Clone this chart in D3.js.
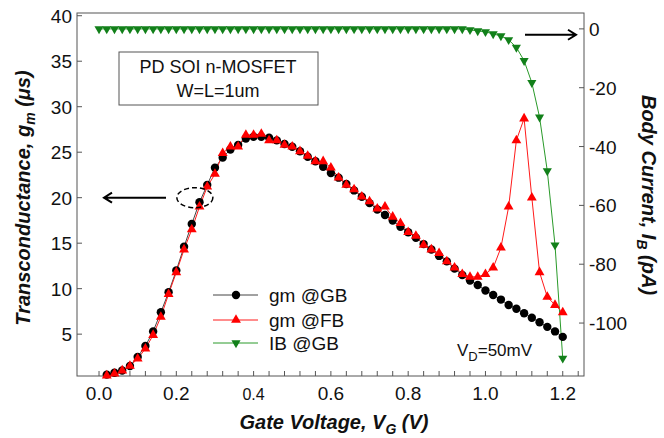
<!DOCTYPE html>
<meta charset="utf-8">
<style>
	body { margin: 0; background: #fff; }
	text { font-family: Arial, "Liberation Sans", sans-serif; fill: #111; }
	.frame { fill: none; stroke: #555; stroke-width: 1; }
	.tick line { stroke: #555; }
	.ticklabel { font-size: 19px; }
	.title { font-size: 20px; font-weight: bold; font-style: italic; }
	.note { font-size: 18px; }
	.legend text { font-size: 19px; }
</style>
<body>
<script src="https://cdn.jsdelivr.net/npm/d3@7"></script>
<script>
var width = 664,
    height = 438;

// gate voltage steps (V)
var vg = [0.00,0.02,0.04,0.06,0.08,0.10,0.12,0.14,0.16,0.18,
          0.20,0.22,0.24,0.26,0.28,0.30,0.32,0.34,0.36,0.38,
          0.40,0.42,0.44,0.46,0.48,0.50,0.52,0.54,0.56,0.58,
          0.60,0.62,0.64,0.66,0.68,0.70,0.72,0.74,0.76,0.78,
          0.80,0.82,0.84,0.86,0.88,0.90,0.92,0.94,0.96,0.98,
          1.00,1.02,1.04,1.06,1.08,1.10,1.12,1.14,1.16,1.18,1.20];

// gm @GB (uS), from 0.02 V
var gmGB = [0.55,0.75,1.0,1.5,2.5,3.7,5.3,7.4,9.6,12.0,
            14.6,17.1,19.5,21.4,23.3,24.4,25.3,25.8,26.5,26.7,
            26.7,26.6,26.3,25.9,25.6,25.1,24.5,24.0,23.4,22.7,
            22.2,21.5,20.8,20.1,19.4,18.7,18.1,17.5,16.8,16.2,
            15.6,14.9,14.3,13.6,13.0,12.2,11.5,10.9,10.4,9.8,
            9.3,8.8,8.2,7.8,7.3,6.8,6.3,5.8,5.3,4.7];

// gm @FB (uS), from 0.02 V
var gmFB = [0.45,0.65,1.0,1.5,2.3,3.4,4.9,6.9,9.4,11.8,
            14.3,16.5,19.0,21.2,22.6,24.9,25.6,25.6,26.9,26.9,
            27.0,26.3,26.3,25.8,25.6,25.1,24.6,24.0,24.0,23.3,
            22.2,21.4,20.9,20.1,19.6,18.8,19.0,17.9,17.2,16.2,
            15.8,14.8,14.3,13.9,13.0,12.3,11.6,11.3,11.3,11.6,
            12.3,14.5,19.0,26.3,28.7,20.0,11.8,9.1,8.2,7.4];

// IB @GB (pA), from 0.00 V
var ibGB = [0,0,0,0,0,0,0,0,0,0,
            0,0,0,0,0,0,0,0,0,0,
            0,0,0,0,0,0,0,0,0,0,
            0,0,0,0,0,0,0,0,0,0,
            0,0,0,0,0,0,0,0,-0.3,-0.7,
            -1.0,-1.7,-2.4,-3.7,-6.3,-10.8,-18.3,-30.0,-48.3,-73.5,-112];

var xTicks = [0.0, 0.2, 0.4, 0.6, 0.8, 1.0, 1.2];
var yLeftTicks = [5, 10, 15, 20, 25, 30, 35, 40];
var yRightTicks = [0, -20, -40, -60, -80, -100];

var pLeft = 77, pRight = 584, pTop = 13, pBottom = 376;

var x = d3.scaleLinear().domain([-0.057, 1.255]).range([pLeft, pRight]);
var yL = d3.scaleLinear().domain([0.4, 40.3]).range([pBottom, pTop]);
var yR = d3.scaleLinear().domain([-118, 5.4]).range([pBottom, pTop]);

var svg = d3.select("body").append("svg")
    .attr("width", width)
    .attr("height", height);

svg.append("rect").attr("width", width).attr("height", height).attr("fill", "#fff");

// ticks (inward)
var ticks = svg.append("g").attr("class", "tick");
ticks.selectAll(".xt").data(d3.range(0, 1.25, 0.04))
  .enter().append("line")
    .attr("x1", function(d) { return x(d); }).attr("x2", function(d) { return x(d); })
    .attr("y1", pBottom).attr("y2", pBottom - 5);
ticks.selectAll(".ylt").data(yLeftTicks)
  .enter().append("line")
    .attr("x1", pLeft).attr("x2", pLeft + 5)
    .attr("y1", function(d) { return yL(d); }).attr("y2", function(d) { return yL(d); });
ticks.selectAll(".yrt").data(yRightTicks)
  .enter().append("line")
    .attr("x1", pRight).attr("x2", pRight - 5)
    .attr("y1", function(d) { return yR(d); }).attr("y2", function(d) { return yR(d); });

svg.append("rect").attr("class", "frame")
    .attr("x", pLeft).attr("y", pTop)
    .attr("width", pRight - pLeft).attr("height", pBottom - pTop);

// tick labels
svg.selectAll(".xl").data(xTicks)
  .enter().append("text")
    .attr("class", "ticklabel")
    .attr("x", function(d) { return x(d); })
    .attr("y", 400)
    .attr("text-anchor", "middle")
    .style("font-size", function(d) { return d === 0.4 ? "16px" : null; })
    .text(function(d) { return d.toFixed(1); });

svg.selectAll(".yll").data(yLeftTicks)
  .enter().append("text")
    .attr("class", "ticklabel")
    .attr("x", 72)
    .attr("y", function(d) { return yL(d) + 7; })
    .attr("text-anchor", "end")
    .text(function(d) { return d; });

svg.selectAll(".yrl").data(yRightTicks)
  .enter().append("text")
    .attr("class", "ticklabel")
    .attr("x", 589)
    .attr("y", function(d) { return yR(d) + 7; })
    .text(function(d) { return d; });

// axis titles
var tx = svg.append("text").attr("class", "title")
    .attr("x", 334).attr("y", 429).attr("text-anchor", "middle");
tx.append("tspan").text("Gate Voltage, V");
tx.append("tspan").attr("dy", 5).style("font-size", "14px").text("G");
tx.append("tspan").attr("dy", -5).text(" (V)");

var tl = svg.append("text").attr("class", "title")
    .attr("transform", "translate(30,198) rotate(-90)").attr("text-anchor", "middle");
tl.append("tspan").text("Transconductance, g");
tl.append("tspan").attr("dy", 5).style("font-size", "14px").text("m");
tl.append("tspan").attr("dy", -5).text(" (\u03bcs)");

var tr = svg.append("text").attr("class", "title")
    .attr("transform", "translate(642,195) rotate(90)").attr("text-anchor", "middle");
tr.append("tspan").text("Body Current, I");
tr.append("tspan").attr("dy", 5).style("font-size", "14px").text("B");
tr.append("tspan").attr("dy", -5).text(" (pA)");

// series
var gmPts = vg.slice(1);
var lineL = function(vals) {
  return d3.line().x(function(d, i) { return x(gmPts[i]); }).y(function(d) { return yL(d); })(vals);
};

var ibLine = d3.line().x(function(d, i) { return x(vg[i]); }).y(function(d) { return yR(d); });

svg.append("path").attr("d", ibLine(ibGB))
    .attr("fill", "none").attr("stroke", "#2a9a2a").attr("stroke-width", 1);
svg.append("path").attr("d", lineL(gmGB))
    .attr("fill", "none").attr("stroke", "#444").attr("stroke-width", 1);
svg.append("path").attr("d", lineL(gmFB))
    .attr("fill", "none").attr("stroke", "#ff1a1a").attr("stroke-width", 1);

var triUp = d3.symbol().type(d3.symbolTriangle).size(42);
var triDown = d3.symbol().type(d3.symbolTriangle).size(36);

svg.append("g").selectAll("path").data(ibGB)
  .enter().append("path")
    .attr("d", triDown)
    .attr("fill", "#12801a")
    .attr("transform", function(d, i) { return "translate(" + x(vg[i]) + "," + yR(d) + ") rotate(180)"; });

svg.append("g").selectAll("circle").data(gmGB)
  .enter().append("circle")
    .attr("cx", function(d, i) { return x(gmPts[i]); })
    .attr("cy", function(d) { return yL(d); })
    .attr("r", 4.2)
    .attr("fill", "#000");

svg.append("g").selectAll("path").data(gmFB)
  .enter().append("path")
    .attr("d", triUp)
    .attr("fill", "#ff0000")
    .attr("transform", function(d, i) { return "translate(" + x(gmPts[i]) + "," + yL(d) + ")"; });

// note box
svg.append("rect").attr("x", 119).attr("y", 52).attr("width", 199).attr("height", 53)
    .attr("fill", "#fff").attr("stroke", "#555");
svg.append("text").attr("class", "note").attr("x", 218).attr("y", 73)
    .attr("text-anchor", "middle").text("PD SOI n-MOSFET");
svg.append("text").attr("class", "note").attr("x", 218).attr("y", 97)
    .attr("text-anchor", "middle").text("W=L=1um");

var vd = svg.append("text").attr("class", "note").attr("x", 457).attr("y", 356)
    .style("font-size", "17px");
vd.append("tspan").text("V");
vd.append("tspan").attr("dy", 5).style("font-size", "13px").text("D");
vd.append("tspan").attr("dy", -5).text("=50mV");

// arrows and ellipse
var ay = yL(20);
svg.append("path")
    .attr("d", "M166," + ay + "H104M112," + (ay - 5) + "L104," + ay + "L112," + (ay + 5))
    .attr("fill", "none").attr("stroke", "#000").attr("stroke-width", 2);
var by = yR(-2);
svg.append("path")
    .attr("d", "M525," + by + "H576M568," + (by - 5) + "L576," + by + "L568," + (by + 5))
    .attr("fill", "none").attr("stroke", "#000").attr("stroke-width", 2);
svg.append("ellipse")
    .attr("cx", x(0.248)).attr("cy", yL(20)).attr("rx", 18).attr("ry", 10)
    .attr("fill", "none").attr("stroke", "#000").attr("stroke-width", 1.5)
    .attr("stroke-dasharray", "5,3");

// legend
var legend = svg.append("g").attr("class", "legend");
var items = [
  {name: "gm @GB", color: "#444", mark: "circle", fill: "#000"},
  {name: "gm @FB", color: "#ff1a1a", mark: "up", fill: "#ff0000"},
  {name: "IB @GB", color: "#2a9a2a", mark: "down", fill: "#12801a"}
];
var rowY = [295, 320, 343];
items.forEach(function(it, i) {
  var g = legend.append("g").attr("transform", "translate(0," + rowY[i] + ")");
  g.append("line").attr("x1", 213).attr("x2", 258).attr("stroke", it.color).attr("stroke-width", 1);
  if (it.mark === "circle") {
    g.append("circle").attr("cx", 236).attr("r", 4.2).attr("fill", it.fill);
  } else if (it.mark === "up") {
    g.append("path").attr("d", triUp).attr("fill", it.fill).attr("transform", "translate(236,0)");
  } else {
    g.append("path").attr("d", triDown).attr("fill", it.fill).attr("transform", "translate(236,0) rotate(180)");
  }
  g.append("text").attr("x", 269).attr("y", 7).text(it.name);
});
</script>
